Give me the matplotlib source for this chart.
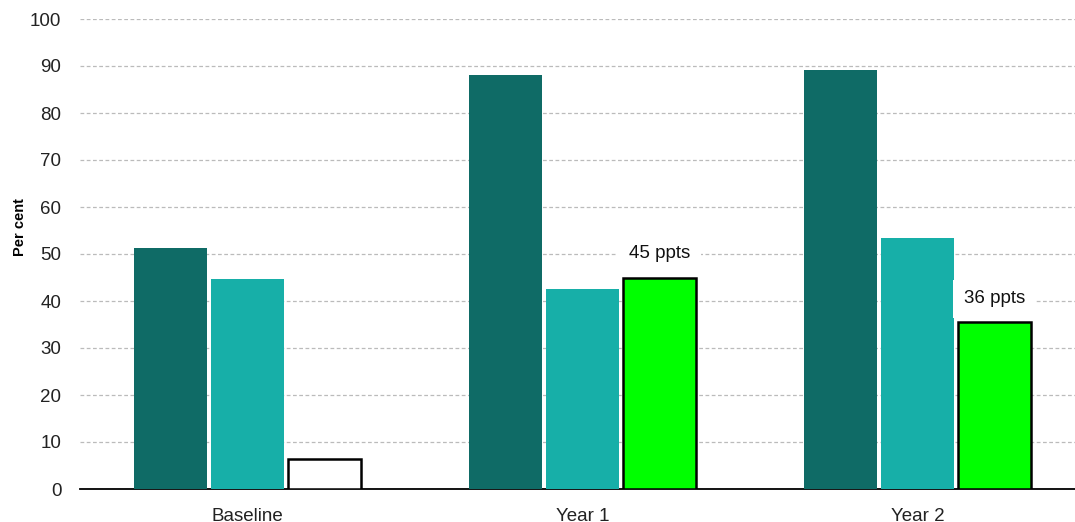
import matplotlib
matplotlib.use("Agg")
import matplotlib.pyplot as plt
import numpy as np

plt.rcParams['font.family'] = ['Liberation Sans', 'DejaVu Sans']

categories = ["Baseline", "Year 1", "Year 2"]
series_a = [51.3, 88.0, 89.1]
series_b = [44.6, 42.6, 53.5]
series_c = [6.4, 45.0, 35.5]
gap_labels = [None, "45 ppts", "36 ppts"]

dark_teal = "#0F6B66"
teal = "#17AFA8"
green = "#00FF00"

fig = plt.figure(figsize=(10.75, 5.22), dpi=100)
ax = fig.add_axes([80 / 1075, 33 / 522, 995 / 1075, 470 / 522])

x = np.arange(len(categories))
w = 0.22
step = 0.23

ax.bar(x - step, series_a, width=w, color=dark_teal, zorder=3)
ax.bar(x, series_b, width=w, color=teal, zorder=3)
c_colors = ["white", green, green]
ax.bar(x + step, series_c, width=w, color=c_colors, edgecolor="black",
       linewidth=1.8, zorder=3)

# Label offsets in data units for each annotated bar
label_dy = [0, 5.2, 5.0]
for i, lab in enumerate(gap_labels):
    if lab is None:
        continue
    ax.text(x[i] + step, series_c[i] + label_dy[i], lab, ha="center",
            va="center", fontsize=13.5, color="#111111", zorder=5,
            bbox=dict(facecolor="white", edgecolor="none", pad=7.5))

ax.set_xlim(-0.5, 2.47)
ax.set_ylim(0, 100)
ax.set_yticks(np.arange(0, 101, 10))
ax.set_xticks(x)
ax.set_xticklabels(categories)

ax.yaxis.grid(True, linestyle=(0, (3, 2)), color="#BBBBBB", linewidth=0.9, zorder=0)
ax.set_axisbelow(True)
for s in ["top", "right", "left"]:
    ax.spines[s].set_visible(False)
ax.spines["bottom"].set_color("black")
ax.spines["bottom"].set_linewidth(1.3)

ax.tick_params(axis="both", length=0, labelsize=13.5, colors="#222222")
ax.tick_params(axis="y", pad=13.5)
ax.tick_params(axis="x", pad=14)

fig.text(20 / 1075, 1 - 227 / 522, "Per cent", rotation=90, ha="center",
         va="center", fontsize=10.5, fontweight="bold", color="black")

fig.savefig("out.png", dpi=100)
